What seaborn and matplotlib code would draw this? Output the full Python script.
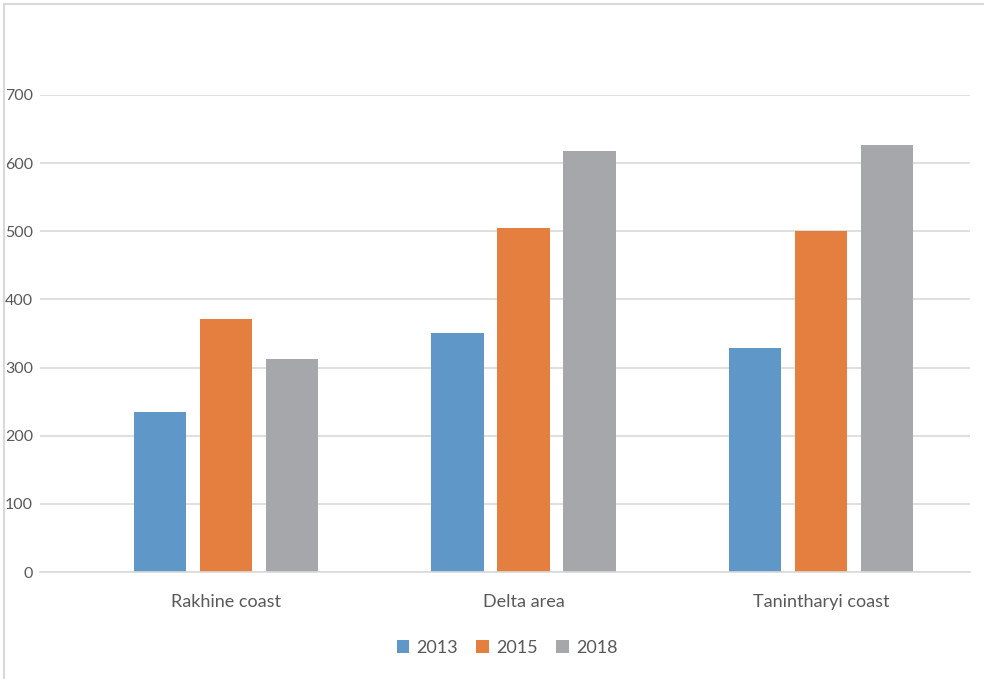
import matplotlib
matplotlib.use('Agg')
import matplotlib.pyplot as plt
import seaborn as sns
import pandas as pd
from matplotlib.patches import Rectangle

# ── Veriler ──
bolgeler = ['Rakhine coast', 'Delta area', 'Tanintharyi coast']
yillar = ['2013', '2015', '2018']
degerler_2013 = [235, 351, 329]
degerler_2015 = [371, 505, 500]
degerler_2018 = [313, 618, 627]
y_ticks = [0, 100, 200, 300, 400, 500, 600, 700]
renkler = ['#6097C9', '#E47F3F', '#A6A7AB']

df = pd.DataFrame({
    'bolge': bolgeler * 3,
    'yil': [y for y in yillar for _ in bolgeler],
    'deger': degerler_2013 + degerler_2015 + degerler_2018,
})

sns.set_theme(style='white')
plt.rcParams['font.family'] = ['Lato', 'DejaVu Sans']

fig = plt.figure(figsize=(9.84, 6.79), dpi=100)
ax = fig.add_axes([40 / 984, 1 - 572 / 679, 930 / 984, 477 / 679])

sns.barplot(data=df, x='bolge', y='deger', hue='yil', palette=renkler,
            width=0.6655, gap=0.21, ax=ax, saturation=1, legend=True,
            linewidth=0)

ax.set_ylim(0, 700)
ax.set_xlim(-0.624, 2.5)
ax.set_yticks(y_ticks)
ax.yaxis.grid(True, color='#D9D9D9', linewidth=1.2)
ax.set_axisbelow(True)
for s in ['top', 'right', 'left']:
    ax.spines[s].set_visible(False)
ax.spines['bottom'].set_color('#D9D9D9')
ax.spines['bottom'].set_linewidth(1.2)
ax.tick_params(axis='both', length=0, colors='#595959')
ax.tick_params(axis='x', pad=16, labelsize=13)
ax.tick_params(axis='y', pad=5, labelsize=11.5)
ax.set_xlabel('')
ax.set_ylabel('')

# Lejant
handles, labels = ax.get_legend_handles_labels()
ax.get_legend().remove()
fig.legend(handles, labels, loc='center', bbox_to_anchor=(507 / 984, 1 - 648 / 679),
           ncol=3, frameon=False, fontsize=13, labelcolor='#595959',
           handlelength=0.7, handleheight=0.7, handletextpad=0.4, columnspacing=1.0)

# Dış çerçeve
fig.patches.append(Rectangle((4 / 984, -0.01), 1.0, 1 - 4.5 / 679 + 0.01,
                             transform=fig.transFigure, fill=False,
                             edgecolor='#D9D9D9', linewidth=1.5))

fig.savefig('out.png', dpi=100)
